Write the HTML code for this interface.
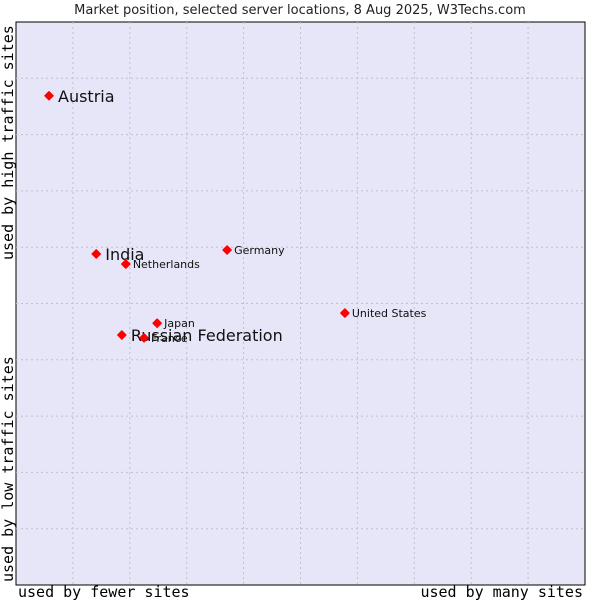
<!DOCTYPE html>
<html><head><meta charset="utf-8"><style>
body{margin:0;background:#fff;width:600px;height:600px;overflow:hidden}
text{font-family:"DejaVu Sans","Liberation Sans",sans-serif}
.mono{font-family:"DejaVu Sans Mono","Liberation Mono",monospace;font-size:15px}
</style></head><body>
<svg id="chart" width="600" height="600">
<text x="300" y="14" text-anchor="middle" font-size="13" fill="#222">Market position, selected server locations, 8 Aug 2025, W3Techs.com</text>
<rect x="16" y="22" width="569" height="563" fill="#e6e6f8" stroke="#000" stroke-width="1"/>
<g id="grid"></g>
<g id="points"></g>
<text class="mono" x="18" y="597" fill="#000">used by fewer sites</text>
<text class="mono" x="583" y="597" text-anchor="end" fill="#000">used by many sites</text>
<text class="mono" transform="translate(13,582) rotate(-90)" fill="#000">used by low traffic sites</text>
<text class="mono" transform="translate(13,260) rotate(-90)" fill="#000">used by high traffic sites</text>
</svg>
<script>
const categories=["Austria","India","Netherlands","Germany","United States","Japan","Russian Federation","France"];
const xValues=[0.58,1.41,1.93,3.71,5.78,2.48,1.86,2.25];
const yValues=[8.69,5.88,5.70,5.95,4.83,4.65,4.44,4.39];
const highlighted=[true,true,false,false,false,false,true,false];
const gridTicks=[1,2,3,4,5,6,7,8,9];
const NS="http://www.w3.org/2000/svg";
const X0=16,X1=585,Y0=585,Y1=22;
function xs(v){return X0+(X1-X0)*v/10;}
function ys(v){return Y0-(Y0-Y1)*v/10;}
const grid=document.getElementById('grid');
gridTicks.forEach(t=>{
  let l=document.createElementNS(NS,'line');
  
  
  l.setAttribute('x1',xs(t));l.setAttribute('x2',xs(t));l.setAttribute('y1',Y1);l.setAttribute('y2',Y0);
  l.setAttribute('stroke','#c0c0c8');l.setAttribute('stroke-dasharray','2,3');
  grid.appendChild(l);
  let h=document.createElementNS(NS,'line');
  
  
  h.setAttribute('y1',ys(t));h.setAttribute('y2',ys(t));h.setAttribute('x1',X0);h.setAttribute('x2',X1);
  h.setAttribute('stroke','#c0c0c8');h.setAttribute('stroke-dasharray','2,3');
  grid.appendChild(h);
});
const pts=document.getElementById('points');
categories.forEach((c,i)=>{
  const x=xs(xValues[i]),y=ys(yValues[i]);
  let p=document.createElementNS(NS,'path');
  
  
  p.setAttribute('d',`M${x-4},${y} L${x},${y-4} L${x+4},${y} L${x},${y+4}Z`);
  p.setAttribute('fill','#f00');
  p.setAttribute('stroke','#f00');
  p.setAttribute('stroke-width','1.5');
  p.setAttribute('stroke-linejoin','round');
  pts.appendChild(p);
  let t=document.createElementNS(NS,'text');
  
  
  const big=highlighted[i];
  t.setAttribute('x',x+(big?9:7));
  t.setAttribute('y',y+(big?6:4));
  t.setAttribute('font-size',big?16:11);
  t.setAttribute('fill','#111');
  t.textContent=c;
  pts.appendChild(t);
});
</script>
</body></html>
